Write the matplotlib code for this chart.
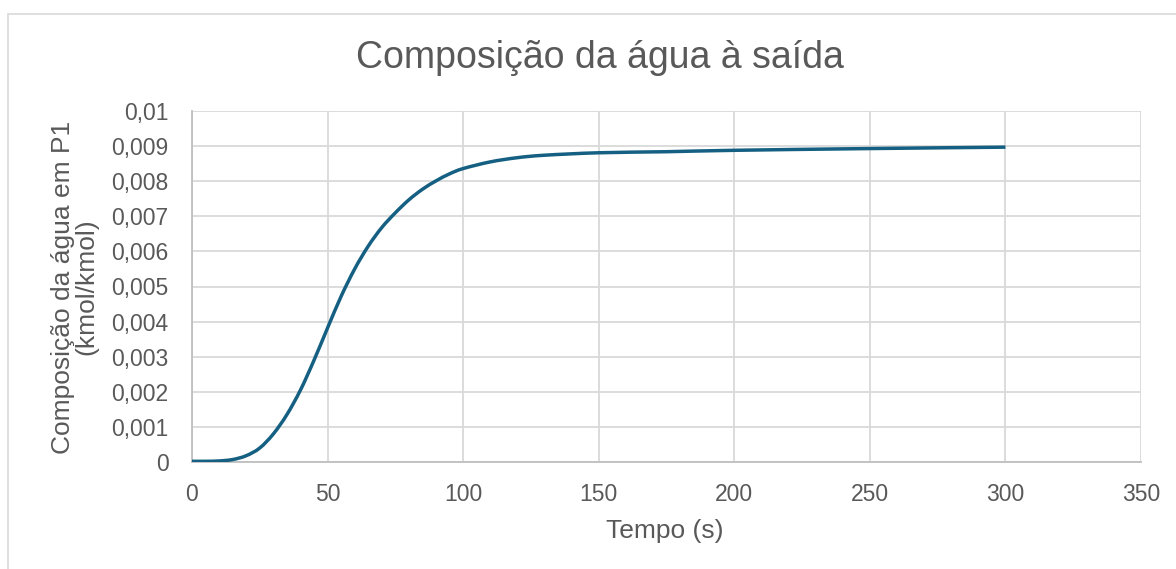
import matplotlib.pyplot as plt
from matplotlib.patches import Rectangle, PathPatch
from matplotlib.path import Path

# tempo (s) and water composition at P1 (kmol/kmol)
tempo = [0, 5, 10, 15, 20, 25, 30, 35, 40, 45, 50, 55, 60, 65, 70, 75, 80, 85,
         90, 95, 100, 110, 120, 130, 150, 175, 200, 250, 300]
composicao = [0.00002, 0.00002, 0.00003, 0.00007, 0.00018, 0.00040, 0.00080,
              0.00135, 0.00205, 0.00290, 0.00382, 0.00472, 0.00550, 0.00615,
              0.00668, 0.00710, 0.00747, 0.00777, 0.00801, 0.00821, 0.00836,
              0.00855, 0.00867, 0.00874, 0.00881, 0.00884, 0.00888, 0.00893,
              0.00897]

x_ticks = [0, 50, 100, 150, 200, 250, 300, 350]
y_ticks = [0, 0.001, 0.002, 0.003, 0.004, 0.005, 0.006, 0.007, 0.008, 0.009, 0.01]
y_tick_labels = ['0', '0,001', '0,002', '0,003', '0,004', '0,005', '0,006',
                 '0,007', '0,008', '0,009', '0,01']

text_col = '#595959'
grid_col = '#D9D9D9'
plt.rcParams['font.family'] = ['Liberation Sans', 'DejaVu Sans']


def smooth_path(xs, ys):
    # Excel-style smoothed line: Catmull-Rom segments as cubic beziers
    pts = list(zip(xs, ys))
    verts = [pts[0]]
    codes = [Path.MOVETO]
    n = len(pts)
    for i in range(n - 1):
        p0 = pts[max(i - 1, 0)]
        p1 = pts[i]
        p2 = pts[i + 1]
        p3 = pts[min(i + 2, n - 1)]
        c1 = (p1[0] + (p2[0] - p0[0]) / 6, p1[1] + (p2[1] - p0[1]) / 6)
        c2 = (p2[0] - (p3[0] - p1[0]) / 6, p2[1] - (p3[1] - p1[1]) / 6)
        verts += [c1, c2, p2]
        codes += [Path.CURVE4] * 3
    return Path(verts, codes)


W, H = 1176, 569
fig = plt.figure(figsize=(W / 100, H / 100), dpi=100)
ax = fig.add_axes([192 / W, 1 - 462 / H, (1141 - 192) / W, (462 - 111) / H])

# chart frame (runs off the right and bottom edge)
fig.patches.append(Rectangle((8 / W, -0.1), 1.2, 1 - 14 / H + 0.1,
                             transform=fig.transFigure, fill=False,
                             edgecolor=grid_col, linewidth=1.2))

ax.add_patch(PathPatch(smooth_path(tempo, composicao), facecolor='none',
                       edgecolor='#156082', linewidth=2.5, capstyle='butt',
                       zorder=3))

ax.set_xlim(0, 350)
ax.set_ylim(0, 0.01)
ax.set_xticks(x_ticks)
ax.set_yticks(y_ticks)
ax.set_yticklabels(y_tick_labels)
ax.grid(True, color=grid_col, linewidth=1.3)
ax.set_axisbelow(True)
ax.tick_params(length=0, labelsize=16.5, colors=text_col)
ax.tick_params(axis='x', pad=15)
ax.tick_params(axis='y', pad=17)

for side in ['top', 'right']:
    ax.spines[side].set_visible(False)
ax.spines['bottom'].set_color('#BFBFBF')
ax.spines['bottom'].set_linewidth(1.3)
ax.spines['left'].set_color('#BFBFBF')
ax.spines['left'].set_linewidth(1.3)

fig.text(600 / W, 1 - 58 / H, 'Composição da água à saída', fontsize=27,
         color=text_col, ha='center', va='center')
fig.text(665 / W, 1 - 531 / H, 'Tempo (s)', fontsize=19, color=text_col,
         ha='center', va='center')
fig.text(75 / W, 1 - 287 / H, 'Composição da água em P1\n(kmol/kmol)',
         fontsize=19, color=text_col, ha='center', va='center',
         rotation=90, linespacing=0.95)

fig.savefig('out.png', dpi=100)
